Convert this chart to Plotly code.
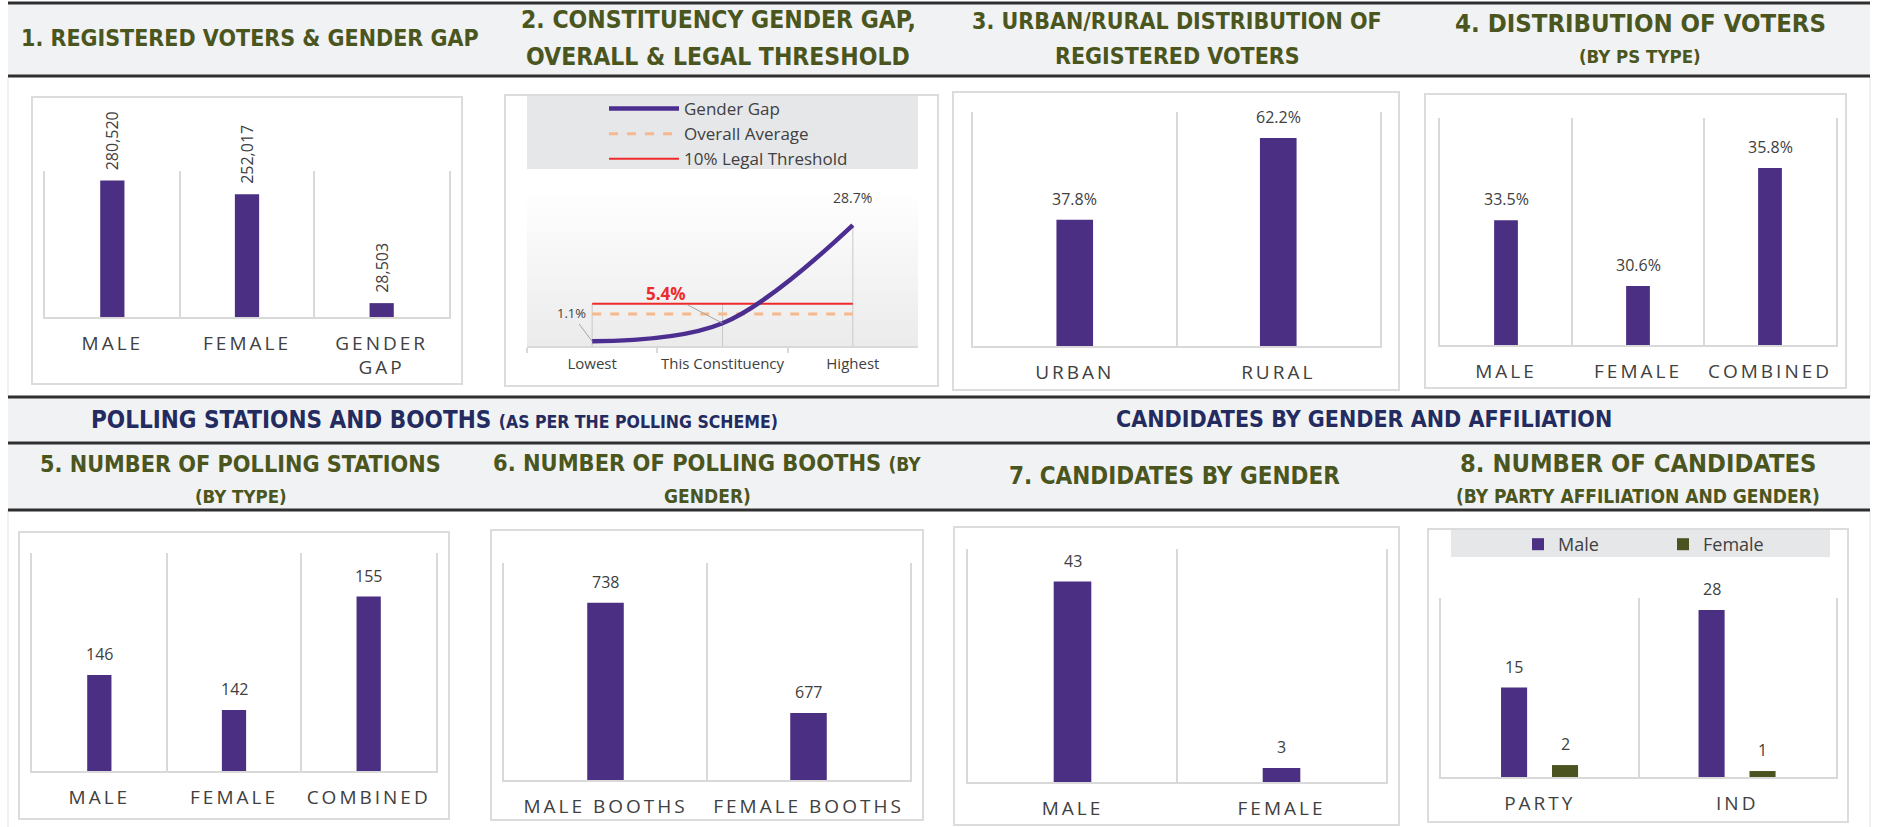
import plotly.graph_objects as go

W, H = 1886, 827

# ---------------- data ----------------
p1_cats = ["MALE", "FEMALE", "GENDER<br>GAP"]
p1_vals = [280520, 252017, 28503]

p2_cats = ["Lowest", "This Constituency", "Highest"]
p2_gap = [1.1, 5.4, 28.7]
p2_avg = [7.6, 7.6, 7.6]
p2_thr = [10, 10, 10]

p3_cats = ["URBAN", "RURAL"]
p3_vals = [37.8, 62.2]

p4_cats = ["MALE", "FEMALE", "COMBINED"]
p4_vals = [33.5, 30.6, 35.8]

p5_cats = ["MALE", "FEMALE", "COMBINED"]
p5_vals = [146, 142, 155]

p6_cats = ["MALE BOOTHS", "FEMALE BOOTHS"]
p6_vals = [738, 677]

p7_cats = ["MALE", "FEMALE"]
p7_vals = [43, 3]

p8_cats = ["PARTY", "IND"]
p8_male = [15, 28]
p8_female = [2, 1]

# ---------------- styles ----------------
PURPLE = "#4a2f82"
OLIVE = "#4b5421"
GAPLINE = "#4b2e90"
RED = "#ee2b2b"
PEACH = "#f6b98c"
GRID = "#d9d9d9"
BAND = "#f1f2f4"
DARK = "#2f2f2f"
TITLE_C = "#4b561e"
NAVY = "#232b5f"
TXT = "#404040"
TITLE_FONT = "DejaVu Sans Condensed, DejaVu Sans, sans-serif"
BODY_FONT = "Open Sans, DejaVu Sans, sans-serif"


def xd(a, b):
    return [a / W, b / W]


def yd(top, bot):
    return [1 - bot / H, 1 - top / H]


def px(x):
    return x / W


def py(y):
    return 1 - y / H


AREAS = {
    1: (45, 449, 171, 317),
    2: (527, 918, 169, 346),
    3: (973, 1380, 112, 346),
    4: (1440, 1836, 118, 345),
    5: (32, 436, 553, 771),
    6: (504, 910, 563, 780),
    7: (968, 1386, 549, 782),
    8: (1441, 1836, 598, 777),
}
RANGES = {1: [0, 300000], 2: [0, 42], 3: [0, 70], 4: [28, 38],
          5: [135, 160], 6: [640, 760], 7: [0, 50], 8: [0, 30]}

fig = go.Figure()


def ax_names(i):
    return ("x" if i == 1 else f"x{i}"), ("y" if i == 1 else f"y{i}")


# ---------------- bars ----------------
simple = {1: (p1_cats, p1_vals), 3: (p3_cats, p3_vals), 4: (p4_cats, p4_vals),
          5: (p5_cats, p5_vals), 6: (p6_cats, p6_vals), 7: (p7_cats, p7_vals)}
for i, (cats, vals) in simple.items():
    xa, ya = ax_names(i)
    fig.add_trace(go.Bar(x=cats, y=vals, width=0.18, marker=dict(color=PURPLE, line=dict(width=0)),
                         xaxis=xa, yaxis=ya, showlegend=False, hoverinfo="skip"))

P8_W, P8_OFF_M, P8_OFF_F = 0.132, -0.196, 0.062
fig.add_trace(go.Bar(x=p8_cats, y=p8_male, name="Male", width=P8_W, offset=P8_OFF_M,
                     marker=dict(color=PURPLE, line=dict(width=0)), xaxis="x8", yaxis="y8",
                     legend="legend2", hoverinfo="skip"))
fig.add_trace(go.Bar(x=p8_cats, y=p8_female, name="Female", width=P8_W, offset=P8_OFF_F,
                     marker=dict(color=OLIVE, line=dict(width=0)), xaxis="x8", yaxis="y8",
                     legend="legend2", hoverinfo="skip"))

# ---------------- panel 2 lines ----------------
drop_x, drop_y = [], []
for c, a, b, t in zip(p2_cats, p2_gap, p2_avg, p2_thr):
    drop_x += [c, c, None]
    drop_y += [0, max(a, b, t), None]
fig.add_trace(go.Scatter(x=drop_x, y=drop_y, mode="lines", line=dict(color="#c8c8c8", width=1),
                         xaxis="x2", yaxis="y2", showlegend=False, hoverinfo="skip"))
fig.add_trace(go.Scatter(x=p2_cats, y=p2_avg, name="Overall Average", mode="lines",
                         line=dict(color=PEACH, width=3, dash="dash"), xaxis="x2", yaxis="y2",
                         legendrank=2, hoverinfo="skip"))
fig.add_trace(go.Scatter(x=p2_cats, y=p2_thr, name="10% Legal Threshold", mode="lines",
                         line=dict(color=RED, width=2), xaxis="x2", yaxis="y2",
                         legendrank=3, hoverinfo="skip"))
fig.add_trace(go.Scatter(x=p2_cats, y=p2_gap, name="Gender Gap", mode="lines",
                         line=dict(color=GAPLINE, width=4.5, shape="spline", smoothing=1),
                         xaxis="x2", yaxis="y2", legendrank=1, hoverinfo="skip"))

# ---------------- axes ----------------
layout_axes = {}
for i, (x0, x1, y0, y1) in AREAS.items():
    xa, ya = ax_names(i)
    xkey = "xaxis" if i == 1 else f"xaxis{i}"
    ykey = "yaxis" if i == 1 else f"yaxis{i}"
    if i == 2:
        layout_axes[xkey] = dict(domain=xd(x0, x1), anchor=ya, type="category", showgrid=False,
                                 range=[-0.5, 2.5], tickangle=0,
                                 showline=True, linecolor=GRID, linewidth=1.5, ticks="outside",
                                 tickson="boundaries", ticklen=5, tickcolor=GRID, tickwidth=1.5,
                                 tickfont=dict(family=BODY_FONT, size=15, color=TXT),
                                 ticklabelstandoff=3, fixedrange=True)
        layout_axes[ykey] = dict(domain=yd(y0, y1), anchor=xa, range=RANGES[i], visible=False,
                                 fixedrange=True)
    else:
        layout_axes[xkey] = dict(domain=xd(x0, x1), anchor=ya, type="category", showgrid=True,
                                 gridcolor=GRID, gridwidth=1.5, tickson="boundaries", ticks="",
                                 showline=True, linecolor=GRID, linewidth=1.5, tickangle=0,
                                 tickfont=dict(family=BODY_FONT, size=19, color=TXT),
                                 ticklabelstandoff=8, fixedrange=True)
        layout_axes[ykey] = dict(domain=yd(y0, y1), anchor=xa, range=RANGES[i], showgrid=False,
                                 zeroline=False, showticklabels=False, showline=True, mirror=True,
                                 linecolor=GRID, linewidth=1.5, ticks="", fixedrange=True)

# ---------------- shapes (background frame) ----------------
shapes = []


def rect(x0, y0, x1, y1, fill=None, line=None, lw=0):
    shapes.append(dict(type="rect", xref="paper", yref="paper", x0=px(x0), x1=px(x1),
                       y0=py(y1), y1=py(y0), fillcolor=fill or "rgba(0,0,0,0)",
                       line=dict(color=line or "rgba(0,0,0,0)", width=lw), layer="below"))


def hline(y, x0=8, x1=1870, color=DARK, w=3):
    shapes.append(dict(type="line", xref="paper", yref="paper", x0=px(x0), x1=px(x1),
                       y0=py(y), y1=py(y), line=dict(color=color, width=w), layer="below"))


def vline(x, y0, y1, color="#e3e3e3", w=1):
    shapes.append(dict(type="line", xref="paper", yref="paper", x0=px(x), x1=px(x),
                       y0=py(y0), y1=py(y1), line=dict(color=color, width=w), layer="below"))


rect(8, 4, 1870, 76, fill=BAND)
rect(8, 397, 1870, 443, fill=BAND)
rect(8, 443, 1870, 510, fill=BAND)
vline(8, 77, 397)
vline(1870, 77, 397)
vline(8, 510, 827)
vline(1870, 510, 827)
hline(3)
hline(76)
hline(397)
hline(443)
hline(510)

BOXES = [(32, 97, 462, 384), (505, 95, 938, 386), (953, 92, 1399, 390), (1425, 94, 1846, 388),
         (19, 532, 449, 819), (491, 530, 923, 820), (954, 527, 1399, 825), (1428, 529, 1848, 822)]
for b in BOXES:
    rect(*b, fill="white", line="#dcdcdc", lw=2)

# panel 2 legend band and plot gradient
rect(527, 96, 918, 169, fill="#e6e7e9")
N = 30
g_top, g_bot = 190, 346
for k in range(N):
    t = (k + 0.5) / N
    c = int(round(255 - 20 * t))
    yy0 = g_top + k * (g_bot - g_top) / N
    yy1 = g_top + (k + 1) * (g_bot - g_top) / N + 0.6
    rect(527, yy0, 918, yy1, fill=f"rgb({c},{c},{c + 1 if c < 255 else 255})")
# panel 8 legend band
rect(1451, 530, 1830, 557, fill="#e6e7e9")

# ---------------- annotations ----------------
ann = []
VAL_FONT = dict(family=BODY_FONT, size=16, color=TXT)


def title(text, x, y, size=24, color=TITLE_C):
    ann.append(dict(text=text, x=px(x), y=py(y), xref="paper", yref="paper", showarrow=False,
                    xanchor="center", yanchor="middle",
                    font=dict(family=TITLE_FONT, size=size, color=color, weight="bold")))


title("1. REGISTERED VOTERS &amp; GENDER GAP", 250, 38, size=23)
title("2. CONSTITUENCY GENDER GAP,", 718, 20, size=24.5)
title("OVERALL &amp; LEGAL THRESHOLD", 718, 56, size=24.5)
title("3. URBAN/RURAL DISTRIBUTION OF", 1177, 21, size=23)
title("REGISTERED VOTERS", 1177, 56, size=23)
title("4. DISTRIBUTION OF VOTERS", 1640, 23, size=25.5)
title("(BY PS TYPE)", 1640, 57, size=18.5)
title("POLLING STATIONS AND BOOTHS <span style='font-size:17.5px'>(AS PER THE POLLING SCHEME)</span>",
      434, 420, size=24, color=NAVY)
title("CANDIDATES BY GENDER AND AFFILIATION", 1364, 419, size=23, color=NAVY)
title("5. NUMBER OF POLLING STATIONS", 241, 463, size=23.2)
title("(BY TYPE)", 241, 496, size=18.5)
title("6. NUMBER OF POLLING BOOTHS <span style='font-size:19px'>(BY</span>", 707, 463, size=23.4)
title("GENDER)", 707, 496, size=19)
title("7. CANDIDATES BY GENDER", 1174, 476, size=24)
title("8. NUMBER OF CANDIDATES", 1638, 463, size=25.3)
title("(BY PARTY AFFILIATION AND GENDER)", 1638, 496, size=19)

# value labels
for c, v in zip(p1_cats, p1_vals):
    ann.append(dict(x=c, y=v, xref="x", yref="y", text=f"{v:,}", showarrow=False, textangle=-90,
                    yanchor="bottom", yshift=8, font=VAL_FONT))
for c, v in zip(p3_cats, p3_vals):
    ann.append(dict(x=c, y=v, xref="x3", yref="y3", text=f"{v:.1f}%", showarrow=False,
                    yanchor="bottom", yshift=8, font=VAL_FONT))
for c, v in zip(p4_cats, p4_vals):
    ann.append(dict(x=c, y=v, xref="x4", yref="y4", text=f"{v:.1f}%", showarrow=False,
                    yanchor="bottom", yshift=8, font=VAL_FONT))
for i, vals in ((5, p5_vals), (6, p6_vals), (7, p7_vals)):
    cats = simple[i][0]
    for c, v in zip(cats, vals):
        ann.append(dict(x=c, y=v, xref=f"x{i}", yref=f"y{i}", text=str(v), showarrow=False,
                        yanchor="bottom", yshift=8, font=VAL_FONT))
for j, (m, f) in enumerate(zip(p8_male, p8_female)):
    ann.append(dict(x=j + P8_OFF_M + P8_W / 2, y=m, xref="x8", yref="y8", text=str(m),
                    showarrow=False, yanchor="bottom", yshift=8, font=VAL_FONT))
    ann.append(dict(x=j + P8_OFF_F + P8_W / 2, y=f, xref="x8", yref="y8", text=str(f),
                    showarrow=False, yanchor="bottom", yshift=8, font=VAL_FONT))

# panel 2 labels
ann.append(dict(x=p2_cats[2], y=p2_gap[2], xref="x2", yref="y2", text=f"{p2_gap[2]}%",
                showarrow=False, yanchor="bottom", yshift=16,
                font=dict(family=BODY_FONT, size=14, color=TXT)))
ann.append(dict(x=p2_cats[1], y=p2_gap[1], xref="x2", yref="y2", text=f"<b>{p2_gap[1]}%</b>",
                showarrow=True, arrowhead=0, arrowwidth=1, arrowcolor="#a6a6a6", ax=-57, ay=-30,
                font=dict(family=BODY_FONT, size=17, color=RED)))
ann.append(dict(x=p2_cats[0], y=p2_gap[0], xref="x2", yref="y2", text=f"{p2_gap[0]}%",
                showarrow=True, arrowhead=0, arrowwidth=1, arrowcolor="#a6a6a6", ax=-21, ay=-28,
                font=dict(family=BODY_FONT, size=13, color=TXT)))

fig.update_layout(
    width=W, height=H, margin=dict(l=0, r=0, t=0, b=0),
    paper_bgcolor="white", plot_bgcolor="rgba(0,0,0,0)",
    barmode="overlay", showlegend=True,
    shapes=shapes, annotations=ann,
    legend=dict(x=px(604), y=py(91), xanchor="left", yanchor="top", bgcolor="rgba(0,0,0,0)",
                font=dict(family=BODY_FONT, size=17, color=TXT), itemwidth=70,
                tracegroupgap=0, traceorder="normal"),
    legend2=dict(orientation="h", x=px(1518), y=py(526), xanchor="left", yanchor="top",
                 bgcolor="rgba(0,0,0,0)", font=dict(family=BODY_FONT, size=18, color=TXT),
                 entrywidth=100, entrywidthmode="pixels"),
    **layout_axes,
)

js = """
document.body.style.margin='0';
document.body.style.overflow='hidden';
var cls=['xtick','x3tick','x4tick','x5tick','x6tick','x7tick','x8tick'];
var sel=cls.map(function(c){return 'g.'+c+' text';}).join(',');
document.querySelectorAll(sel).forEach(function(t){t.style.letterSpacing='3px';});
"""

fig.write_html("out.html", post_script=js, config={"displayModeBar": False})
